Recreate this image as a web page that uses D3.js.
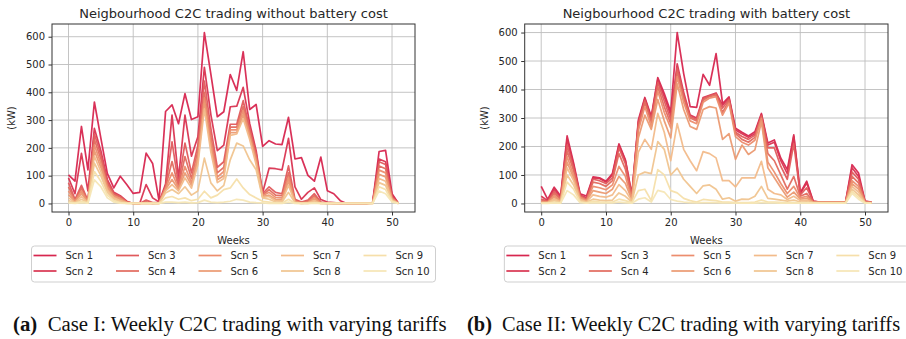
<!DOCTYPE html>
<html>
<head>
<meta charset="utf-8">
<script src="https://cdn.jsdelivr.net/npm/d3@7"></script>
<style>
  body { margin: 0; background: #fff; }
  svg { display: block; font-family: "DejaVu Sans", sans-serif; }
</style>
</head>
<body>
<svg id="chart" width="906" height="339"></svg>
<script>
// ---- data ----
const weeks = [0,1,2,3,4,5,6,7,8,9,10,11,12,13,14,15,16,17,18,19,20,21,22,23,24,25,
               26,27,28,29,30,31,32,33,34,35,36,37,38,39,40,41,42,43,44,45,46,47,48,49,50,51];
const scenarios = ["Scn 1","Scn 2","Scn 3","Scn 4","Scn 5","Scn 6","Scn 7","Scn 8","Scn 9","Scn 10"];
const xTicks = [0, 10, 20, 30, 40, 50];
const yTicks = [0, 100, 200, 300, 400, 500, 600];

// Case I - without battery cost
const noBat1  = [103,80,277,121,365,235,108,56,98,68, 36,40,181,144,8,331,355,287,395,302, 312,615,465,312,330,464,407,546,338,356, 205,226,214,212,310,160,165,101,80,167, 46,35,10,0,0,0,0,3,187,191, 35,0];
const noBat2  = [92,35,180,45,270,190,86,40,28,8, 0,0,68,20,5,70,318,90,318,170, 240,490,320,190,210,348,350,418,288,190, 38,127,125,121,234,60,15,40,56,14, 5,3,0,0,0,0,0,2,160,150, 30,0];
const noBat3  = [75,15,65,10,250,175,78,36,25,6, 0,0,12,3,3,62,222,70,217,110, 210,440,270,130,150,285,285,370,270,180, 35,60,40,35,135,15,5,12,35,5, 2,0,0,0,0,0,0,2,150,140, 25,0];
const noBat4  = [60,10,55,8,230,160,70,32,22,5, 0,0,6,0,2,58,151,60,169,90, 190,400,240,110,130,275,275,350,260,170, 30,50,30,28,110,10,3,8,28,3, 1,0,0,0,0,0,0,1,135,125, 20,0];
const noBat5  = [45,8,45,6,210,145,62,28,18,4, 0,0,3,0,1,54,110,55,133,75, 170,380,220,95,115,265,265,335,250,160, 28,40,22,20,95,8,2,5,22,2, 0,0,0,0,0,0,0,1,120,110, 18,0];
const noBat6  = [32,6,35,5,190,130,55,24,14,3, 0,0,0,0,0,50,86,50,110,65, 155,360,200,85,100,255,255,320,240,150, 25,30,15,14,80,6,1,3,16,1, 0,0,0,0,0,0,0,1,105,95, 15,0];
const noBat7  = [20,4,25,4,170,115,48,20,10,2, 0,0,0,0,0,45,68,45,92,55, 140,340,185,75,90,245,250,305,230,140, 22,25,10,9,65,4,0,2,10,0, 0,0,0,0,0,0,0,0,90,80, 12,0];
const noBat8  = [10,2,15,3,145,100,40,15,6,1, 0,0,0,0,0,38,50,35,60,30, 45,163,74,45,65,157,217,207,157,121, 20,15,5,5,40,2,0,0,5,0, 0,0,0,0,0,0,0,0,75,65, 10,0];
const noBat9  = [5,1,8,2,115,80,30,10,3,0, 0,0,0,0,0,20,25,15,20,10, 15,44,20,30,50,56,88,56,32,20, 8,5,2,2,15,1,0,0,2,0, 0,0,0,0,0,0,0,0,60,50, 8,0];
const noBat10 = [2,0,3,1,85,60,20,5,1,0, 0,0,0,0,0,5,5,3,5,2, 3,12,5,3,5,8,15,12,5,3, 2,0,0,0,5,0,0,0,0,0, 0,0,0,0,0,0,0,0,45,35, 5,0];

// Case II - with battery cost
const bat1  = [60,14,57,26,237,142,34,26,93,90, 78,105,209,153,31,293,372,305,442,386, 322,600,456,340,337,453,415,526,351,374, 264,250,237,252,316,212,223,159,119,241, 37,78,8,5,5,5,5,5,136,107, 8,5];
const bat2  = [25,10,50,22,225,135,30,20,90,88, 75,100,205,150,28,285,368,300,435,375, 310,490,390,310,300,372,380,388,345,370, 258,245,232,245,312,205,215,150,105,235, 35,72,7,5,5,5,5,5,125,95, 7,4];
const bat3  = [15,8,42,18,205,125,28,15,85,80, 70,90,195,140,25,280,362,295,425,360, 295,475,380,305,295,368,378,385,335,365, 250,235,225,240,308,195,195,130,85,210, 30,55,6,5,5,5,5,5,110,85, 6,4];
const bat4  = [10,6,35,14,185,115,25,12,75,70, 60,80,175,120,20,270,355,285,410,340, 280,460,370,300,290,362,375,380,320,360, 245,225,215,232,303,175,150,100,50,95, 25,35,5,5,5,5,5,5,95,72, 5,3];
const bat5  = [6,5,28,10,165,100,22,10,60,55, 48,65,130,95,15,255,340,270,395,320, 265,445,355,290,280,355,370,375,310,352, 235,215,205,222,298,145,110,70,35,60, 20,25,5,4,4,4,4,4,80,60, 5,3];
const bat6  = [4,4,22,8,145,90,18,8,45,40, 35,50,95,70,12,230,310,260,365,290, 230,420,330,270,260,330,340,335,225,245, 155,205,172,188,287,125,90,55,22,40, 15,18,4,4,4,4,4,4,70,50, 4,3];
const bat7  = [3,3,16,6,125,80,14,6,30,25, 22,30,66,45,8,180,225,190,316,250, 150,280,190,150,115,182,175,160,80,80, 58,90,90,90,148,50,35,30,14,25, 10,12,3,3,3,3,3,3,60,40, 3,2];
const bat8  = [2,2,10,4,100,65,10,4,15,12, 10,12,37,25,5,100,110,105,217,190, 100,124,85,60,35,62,65,50,15,20, 8,15,14,25,60,18,15,12,8,12, 5,6,2,2,2,2,2,2,50,30, 3,2];
const bat9  = [1,1,5,2,75,50,6,2,8,6, 5,5,15,10,3,45,50,10,119,100, 45,37,18,10,5,14,12,10,5,5, 3,3,3,5,12,5,5,4,3,4, 2,2,1,1,1,1,1,1,42,22, 2,1];
const bat10 = [0,0,2,1,45,30,3,1,3,2, 2,2,5,3,1,15,20,5,46,40, 14,8,5,3,2,3,3,3,2,2, 1,1,1,1,3,2,2,1,1,1, 1,1,1,1,1,1,1,1,35,15, 1,1];

const noBatSeries = [noBat1, noBat2, noBat3, noBat4, noBat5, noBat6, noBat7, noBat8, noBat9, noBat10];
const batSeries = [bat1, bat2, bat3, bat4, bat5, bat6, bat7, bat8, bat9, bat10];

const colors = ["#d7264f", "#d93451", "#e05a5c", "#e26a5e", "#ec8d6e",
                "#eb9a72", "#f2bb8a", "#f0c48f", "#f6dfaa", "#f6e6b5"];

const svg = d3.select("#chart");
svg.append("rect").attr("width", 906).attr("height", 339).attr("fill", "#fff");

const textCol = "#262626";

function drawPanel(p) {
    const g = svg.append("g");

    // matplotlib style 5% margins
    const xSpan = d3.max(weeks) - d3.min(weeks);
    const x = d3.scaleLinear()
        .domain([d3.min(weeks) - 0.05 * xSpan, d3.max(weeks) + 0.05 * xSpan])
        .range([p.left, p.right]);
    const yMax = d3.max(p.series, s => d3.max(s));
    const y = d3.scaleLinear()
        .domain([-0.05 * yMax, 1.05 * yMax])
        .range([p.bottom, p.top]);

    // grid
    g.selectAll(".gx").data(xTicks).enter().append("line")
        .attr("x1", d => x(d)).attr("x2", d => x(d))
        .attr("y1", p.top).attr("y2", p.bottom)
        .attr("stroke", "#bdbdbd").attr("stroke-width", 0.9);
    g.selectAll(".gy").data(yTicks).enter().append("line")
        .attr("x1", p.left).attr("x2", p.right)
        .attr("y1", d => y(d)).attr("y2", d => y(d))
        .attr("stroke", "#bdbdbd").attr("stroke-width", 0.9);

    // lines
    const line = d3.line().x((d, i) => x(weeks[i])).y(d => y(d));
    g.selectAll(".series").data(p.series).enter().append("path")
        .attr("d", line)
        .attr("fill", "none")
        .attr("stroke", (d, i) => colors[i])
        .attr("stroke-width", 1.7)
        .attr("stroke-linejoin", "round")
        .attr("opacity", 0.95);

    // frame
    g.append("rect")
        .attr("x", p.left).attr("y", p.top)
        .attr("width", p.right - p.left).attr("height", p.bottom - p.top)
        .attr("fill", "none").attr("stroke", "#333").attr("stroke-width", 1);

    // axes
    const ax = g.append("g").attr("transform", `translate(0,${p.bottom})`)
        .call(d3.axisBottom(x).tickValues(xTicks).tickSize(3.5).tickPadding(3.5));
    const ay = g.append("g").attr("transform", `translate(${p.left},0)`)
        .call(d3.axisLeft(y).tickValues(yTicks).tickSize(3.5).tickPadding(3.5));
    [ax, ay].forEach(a => {
        a.select(".domain").remove();
        a.selectAll("line").attr("stroke", "#333");
        a.selectAll("text").attr("font-size", 10).attr("fill", textCol)
            .attr("font-family", "DejaVu Sans, sans-serif");
    });

    // title and labels
    const cx = (p.left + p.right) / 2;
    g.append("text").attr("x", cx).attr("y", 18)
        .attr("text-anchor", "middle").attr("font-size", 13).attr("fill", textCol)
        .text(p.title);
    g.append("text").attr("x", cx).attr("y", 243.5)
        .attr("text-anchor", "middle").attr("font-size", 10).attr("fill", textCol)
        .text("Weeks");
    g.append("text")
        .attr("transform", `translate(${p.left - 37},${(p.top + p.bottom) / 2}) rotate(-90)`)
        .attr("text-anchor", "middle").attr("font-size", 10).attr("fill", textCol)
        .text("(kW)");

    // legend
    const lg = g.append("g").attr("transform", `translate(${cx - 202},246)`);
    lg.append("rect").attr("x", 0).attr("y", 0).attr("width", 404).attr("height", 36)
        .attr("rx", 3).attr("fill", "#fff").attr("stroke", "#cfcfcf").attr("stroke-width", 1);
    scenarios.forEach((name, i) => {
        const col = Math.floor(i / 2), row = i % 2;
        const ex = 2 + col * 82.5, ey = 9.5 + row * 15.5;
        lg.append("line").attr("x1", ex).attr("x2", ex + 23).attr("y1", ey).attr("y2", ey)
            .attr("stroke", colors[i]).attr("stroke-width", 1.7);
        lg.append("text").attr("x", ex + 32).attr("y", ey + 3.6)
            .attr("font-size", 10).attr("fill", textCol).text(name);
    });

    // caption
    const cap = g.append("text").attr("x", p.capX).attr("y", 331)
        .attr("font-family", "Liberation Serif, Times New Roman, serif")
        .attr("font-size", p.capSize).attr("fill", "#111");
    cap.append("tspan").attr("font-weight", "bold").text(p.capTag);
    cap.append("tspan").text("\u00a0 " + p.caption);
}

drawPanel({
    left: 52, right: 415, top: 24, bottom: 212,
    series: noBatSeries,
    title: "Neigbourhood C2C trading without battery cost",
    capX: 13, capSize: 20.8, capTag: "(a)", caption: "Case I: Weekly C2C trading with varying tariffs"
});
drawPanel({
    left: 524.7, right: 888, top: 24, bottom: 212,
    series: batSeries,
    title: "Neigbourhood C2C trading with battery cost",
    capX: 467, capSize: 20.4, capTag: "(b)", caption: "Case II: Weekly C2C trading with varying tariffs"
});
</script>
</body>
</html>
